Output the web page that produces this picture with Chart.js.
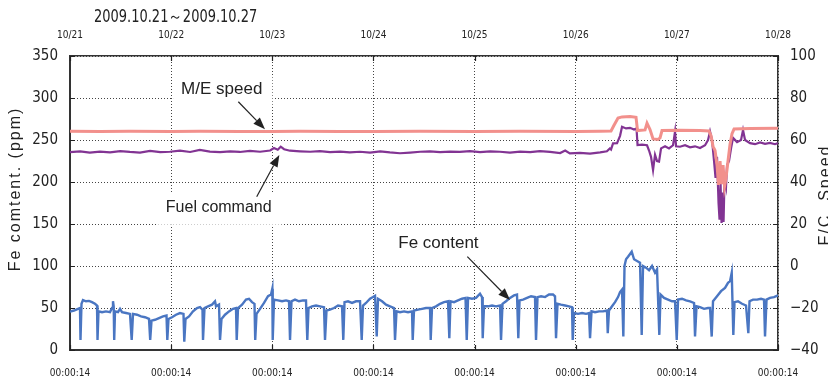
<!DOCTYPE html>
<html><head><meta charset="utf-8">
<script src="https://cdn.jsdelivr.net/npm/chart.js@4.4.0/dist/chart.umd.min.js"></script>
<style>html,body{margin:0;padding:0;background:#fff;}canvas{display:block;}</style>
</head><body>
<canvas id="c" width="828" height="378"></canvas>
<script>
// ---------- data ----------
const titleText = '2009.10.21\uFF5E2009.10.27';
const topLabels = ['10/21','10/22','10/23','10/24','10/25','10/26','10/27','10/28'];
const bottomLabels = ['00:00:14','00:00:14','00:00:14','00:00:14','00:00:14','00:00:14','00:00:14','00:00:14'];
const leftAxisTitle = 'Fe comtent. (ppm)';
const rightAxisTitle = 'F/C, Speed';
const seriesNames = ['M/E speed','Fuel command','Fe content'];

// [hours since 10/21 00:00:14, value]  (M/E speed & Fuel command on right axis, Fe content in ppm on left axis)
const meSpeed = [[0,64.2],[7.12,64.1],[14.24,64.2],[23.97,64.0],[30.85,64.2],[40.34,64.1],[47.93,64.0],[54.58,64.2],[64.07,64.1],[72.14,64.0],[83.06,64.2],[95.87,64.1],[106.79,64.2],[120.08,64.1],[125.77,64.2],[128.38,64.3],[129.09,67],[130.04,70.5],[130.99,71],[132.89,71.2],[134.31,70.8],[134.67,64.5],[136.45,64.8],[136.92,68],[137.63,65],[138.35,60.5],[139.53,60.3],[140.01,61],[140.48,64.5],[144.75,64.6],[149.50,64.5],[151.63,64.3],[152.11,62],[152.58,57],[153.06,55],[153.53,48],[153.89,38.6],[154.25,50],[154.60,39],[154.96,48],[155.32,38],[155.67,42],[156.14,50],[156.62,58],[157.09,63],[157.57,65.2],[161.36,65.5],[168,65.6]];

const fuelCommand = [[0,54.2],[2.4,54.6],[4.7,54.0],[7.1,54.5],[9.5,54.1],[11.9,54.7],[14.2,54.3],[16.6,54.0],[19.0,54.8],[21.4,54.2],[23.7,54.4],[26.1,54.9],[28.5,54.3],[30.8,55.3],[33.2,54.5],[35.6,54.2],[38.0,54.6],[40.3,54.3],[42.7,54.8],[45.1,54.4],[47.5,55.0],[48.4,56.2],[49.3,55.4],[50.0,56.8],[50.8,55.6],[52.2,54.9],[54.6,54.6],[57.0,54.4],[59.3,54.7],[61.7,54.2],[64.1,54.5],[66.4,54.1],[68.8,54.4],[71.2,54.0],[73.6,54.6],[75.9,54.1],[78.3,53.7],[80.7,54.0],[83.1,54.4],[85.4,54.6],[87.8,54.2],[90.2,54.5],[92.5,54.3],[94.9,54.7],[97.3,54.2],[99.7,54.6],[102.0,54.4],[104.4,54.0],[106.8,54.5],[109.2,54.2],[111.5,54.7],[113.9,54.3],[116.3,53.8],[117.5,55.0],[118.6,53.6],[121.0,53.9],[123.4,53.5],[125.8,54.1],[127.4,54.6],[128.1,56.0],
[128.38,55.5],[128.86,58.4],[129.81,58.5],[130.52,62],[130.99,66.3],[131.94,65.5],[132.89,65.8],[133.84,65],[134.43,65.5],[134.67,57.6],[135.74,57.8],[136.92,57.5],[137.40,55],[137.87,52],[138.35,45.7],[138.82,53],[139.30,50],[139.77,49.7],[140.25,56],[141.20,57],[142.14,56],[143.09,57.5],[143.57,64],[143.80,57],[144.75,56.8],[145.94,57.5],[147.13,56.5],[148.31,57],[149.50,56.2],[150.69,57.5],[151.40,60],[151.87,64],[152.35,60],[152.82,50],[153.18,41.9],[153.53,52],[153.89,30],[154.13,22],[154.37,40],[154.60,20.5],[154.84,35],[155.08,21],[155.32,42],[155.67,38],[155.91,48],[156.38,50],[156.86,56],[157.33,61],[158.28,59],[159.23,60],[159.70,64.7],[160.18,60],[161.36,58.5],[162.55,58],[163.74,58.8],[164.92,58.2],[166.10,58.6],[167.29,58],[168,58.5]];

const feContent = [[0,45.6],[0.95,47],[1.90,49],[2.37,50],[2.49,12],[2.73,55],[3.08,59.5],[3.80,58],[4.51,58.5],[5.22,57],[5.93,55],[6.41,53],[6.53,12],[6.76,46],[7.59,45],[8.54,46],[9.49,45],[9.97,50],[10.20,58],[10.37,52],[10.49,12],[10.68,46],[11.39,45],[11.87,49],[12.34,45],[13.29,44],[14.24,43],[14.64,12],[14.95,43],[15.90,42],[16.85,40],[17.80,39],[18.75,37],[19.03,12],[19.34,35],[20.17,36],[21.12,38],[22.07,40],[22.90,41],[23.09,12],[23.37,37],[24.20,39],[25.15,42],[26.10,44],[26.93,43],[27.12,10],[27.41,37],[28.24,40],[29.19,46],[30.14,50],[30.85,51],[31.44,48],[31.56,12],[31.92,50],[32.75,52],[33.70,54],[34.41,58],[34.65,52],[35.36,54],[35.60,12],[35.95,37],[36.78,42],[37.73,46],[38.68,49],[39.39,50],[39.56,12],[39.87,50],[40.82,54],[41.76,60],[42.48,61],[43.19,57],[43.78,55],[43.95,12],[44.26,43],[45.09,49],[46.04,56],[46.99,64],[47.70,66],[48.01,73],[48.10,12],[48.41,60],[49.36,59],[50.31,58],[51.26,59],[51.97,58],[52.21,12],[52.56,58],[53.39,60],[54.34,58],[55.29,59],[56.00,59],[56.31,12],[56.60,50],[57.43,52],[58.38,53],[59.33,52],[60.27,51],[60.51,12],[60.87,47],[61.70,48],[62.65,50],[63.60,53],[64.55,52],[64.85,12],[65.14,57],[65.97,58],[66.92,56],[67.87,58],[68.82,58],[69.22,12],[69.53,53],[70.24,56],[71.19,61],[71.90,63],[72.38,64.5],[72.78,16],[73.09,61],[74.04,58],[74.99,54],[75.94,52],[76.89,50],[77.12,12],[77.48,46],[78.31,45],[79.26,46],[80.21,45],[81.16,46],[81.32,12],[81.63,47],[82.58,48],[83.53,49],[84.48,50],[85.43,50],[85.59,12],[85.90,50],[86.85,52],[87.80,55],[88.75,57],[89.70,58],[90.01,14],[90.29,58],[91.12,57],[92.07,59],[93.02,61],[93.85,62],[94.14,12],[94.45,62],[95.39,61],[96.34,62],[97.29,67],[97.77,63],[97.93,14],[98.24,52],[99.19,52],[100.14,53],[101.09,52],[102.04,53],[102.28,12],[102.63,55],[103.46,58],[104.41,62],[105.36,65],[106.07,66],[106.38,14],[106.67,59],[107.50,60],[108.45,62],[109.40,64],[110.34,63],[110.58,12],[110.94,63],[111.77,64],[112.72,63],[113.67,66],[114.62,66],[115.09,64],[115.33,14],[115.68,55],[116.51,54],[117.46,53],[118.41,52],[119.12,51],[119.29,12],[119.60,44],[120.55,43],[121.50,44],[122.45,43],[123.16,44],[123.40,14],[123.75,46],[124.58,45],[125.53,46],[126.48,46],[127.43,47],[127.60,20],[127.90,47],[128.62,52],[129.33,57],[130.04,63],[130.52,69],[130.99,72],[131.30,16],[131.58,100],[131.94,108],[132.41,111],[133.29,117],[133.84,108],[134.55,106],[135.26,104],[135.66,18],[135.97,100],[136.68,98],[137.40,95],[138.11,100],[138.82,92],[139.30,96],[139.84,18],[140.13,66],[140.96,62],[141.91,60],[142.85,58],[143.57,58],[143.97,12],[144.28,60],[145.23,61],[146.18,59],[147.13,58],[148.08,56],[148.31,16],[148.67,52],[149.50,51],[150.45,49],[151.40,50],[151.87,50],[152.27,16],[152.58,58],[153.53,64],[154.48,70],[155.43,74],[156.14,80],[156.62,82],[157.02,92],[157.40,18],[157.68,57],[158.51,58],[159.46,55],[160.41,53],[160.96,20],[161.24,58],[162.07,60],[163.03,60],[163.97,61],[164.68,60],[164.92,16],[165.28,60],[166.10,62],[167.05,63],[168,65]];

// annotation labels & arrows, in data coordinates (hours, axis value)
const annotations = [
  {text:'M/E speed', axis:'y2', size:17, at:[36.00,84.76], tail:[39.94,78.2], tip:[46.27,65.1]},
  {text:'Fuel command', axis:'y2', size:16, at:[35.29,28.57], tail:[44.30,33.0], tip:[49.67,52.9]},
  {text:'Fe content', axis:'y', size:17, at:[87.42,129.2], tail:[94.28,111.1], tip:[104.41,59.5]}
];

// ---------- drawing ----------
const NARROW = '"Liberation Sans Narrow","Arial Narrow","DejaVu Sans Condensed","Liberation Sans",sans-serif';
const SANS = '"Liberation Sans",Arial,Helvetica,sans-serif';
const INK = '#222';

function annBox(chart, a, ctx){
  const xs = chart.scales.x, ys = chart.scales[a.axis];
  const cx = xs.getPixelForValue(a.at[0]), cy = ys.getPixelForValue(a.at[1]);
  ctx.font = a.size + 'px ' + SANS;
  const w = ctx.measureText(a.text).width, cap = a.size * 0.716;
  return {cx, cy, w, cap};
}
function arrow(ctx, x1, y1, x2, y2){
  const ang = Math.atan2(y2 - y1, x2 - x1), L = 12, W = 4.5;
  const bx = x2 - L * Math.cos(ang), by = y2 - L * Math.sin(ang);
  ctx.beginPath(); ctx.moveTo(x1, y1); ctx.lineTo(bx, by); ctx.stroke();
  ctx.beginPath(); ctx.moveTo(x2, y2);
  ctx.lineTo(bx + W * Math.sin(ang), by - W * Math.cos(ang));
  ctx.lineTo(bx - W * Math.sin(ang), by + W * Math.cos(ang));
  ctx.closePath(); ctx.fill();
}

const decor = {
  id: 'decor',
  beforeDatasetsDraw(chart){
    const ctx = chart.ctx;
    ctx.save();
    ctx.fillStyle = '#fff';
    annotations.forEach(a => {
      const b = annBox(chart, a, ctx);
      ctx.fillRect(b.cx - b.w / 2 - 8, b.cy - b.cap / 2 - 7, b.w + 18, b.cap + 20);
    });
    ctx.restore();
  },
  afterDraw(chart){
    const ctx = chart.ctx, ca = chart.chartArea;
    const xs = chart.scales.x, ys = chart.scales.y, y2 = chart.scales.y2;
    ctx.save();
    // inward tick marks
    ctx.strokeStyle = INK; ctx.lineWidth = 1.2;
    ctx.beginPath();
    xs.ticks.forEach(t => {
      const p = Math.round(xs.getPixelForValue(t.value)) + 0.5;
      ctx.moveTo(p, ca.bottom); ctx.lineTo(p, ca.bottom - 5);
      ctx.moveTo(p, ca.top); ctx.lineTo(p, ca.top + 5);
    });
    ys.ticks.forEach(t => {
      const p = Math.round(ys.getPixelForValue(t.value)) + 0.5;
      ctx.moveTo(ca.left, p); ctx.lineTo(ca.left + 5, p);
    });
    y2.ticks.forEach(t => {
      const p = Math.round(y2.getPixelForValue(t.value)) + 0.5;
      ctx.moveTo(ca.right, p); ctx.lineTo(ca.right - 5, p);
    });
    ctx.stroke();

    // annotations
    ctx.fillStyle = INK; ctx.strokeStyle = INK; ctx.lineWidth = 1.2;
    annotations.forEach(a => {
      const b = annBox(chart, a, ctx);
      ctx.textAlign = 'center'; ctx.textBaseline = 'alphabetic';
      ctx.fillText(a.text, b.cx, b.cy + b.cap / 2);
      const ax = chart.scales[a.axis];
      arrow(ctx, xs.getPixelForValue(a.tail[0]), ax.getPixelForValue(a.tail[1]),
                 xs.getPixelForValue(a.tip[0]), ax.getPixelForValue(a.tip[1]));
    });

    // title (condensed horizontally to match the narrow face of the original)
    ctx.font = '17px ' + NARROW;
    ctx.textAlign = 'left'; ctx.textBaseline = 'alphabetic';
    ctx.save(); ctx.translate(94, 22); ctx.scale(0.85, 1);
    ctx.fillText(titleText, 0, 0); ctx.restore();

    // axis titles
    ctx.font = '16px ' + SANS;
    ctx.textAlign = 'center';
    try { ctx.letterSpacing = '2px'; } catch(e) {}
    ctx.save(); ctx.translate(20, 189); ctx.rotate(-Math.PI / 2);
    ctx.fillText(leftAxisTitle, 0, 0); ctx.restore();
    ctx.save(); ctx.translate(830, 195); ctx.rotate(-Math.PI / 2);
    ctx.fillText(rightAxisTitle, 0, 0); ctx.restore();
    ctx.restore();
  }
};

const gridDotted = {color: '#444', lineWidth: 1, drawTicks: false};

new Chart(document.getElementById('c'), {
  type: 'line',
  data: {
    datasets: [
      {label: seriesNames[0], data: meSpeed, yAxisID: 'y2', borderColor: '#F2908C', borderWidth: 3},
      {label: seriesNames[1], data: fuelCommand, yAxisID: 'y2', borderColor: '#823493', borderWidth: 2.2},
      {label: seriesNames[2], data: feContent, yAxisID: 'y', borderColor: '#4A76C2', borderWidth: 2.4}
    ]
  },
  options: {
    responsive: false, animation: false, devicePixelRatio: 1,
    layout: {padding: 0},
    elements: {point: {radius: 0}, line: {tension: 0}},
    plugins: {legend: {display: false}, tooltip: {enabled: false}},
    scales: {
      x: {type: 'linear', position: 'bottom', min: 0, max: 168,
          afterFit: s => { s.height = 28; },
          ticks: {stepSize: 24, autoSkip: false, maxRotation: 0, padding: 17, color: INK,
                  font: {family: NARROW, size: 10},
                  callback: v => bottomLabels[Math.round(v / 24)]},
          grid: gridDotted,
          border: {display: true, width: 2, color: '#333', dash: [1, 2]}},
      x2: {type: 'linear', position: 'top', min: 0, max: 168,
          afterFit: s => { s.height = 56; },
          ticks: {stepSize: 24, autoSkip: false, maxRotation: 0, padding: 15, color: INK,
                  font: {family: NARROW, size: 10},
                  callback: v => topLabels[Math.round(v / 24)]},
          grid: {display: false, drawTicks: false},
          border: {display: true, width: 1.5, color: '#333'}},
      y: {type: 'linear', position: 'left', min: 0, max: 350,
          afterFit: s => { s.width = 70; },
          ticks: {stepSize: 50, padding: 12, color: INK, font: {family: NARROW, size: 15}},
          grid: gridDotted,
          border: {display: true, width: 2, color: '#333', dash: [1, 2]}},
      y2: {type: 'linear', position: 'right', min: -40, max: 100,
          afterFit: s => { s.width = 50; },
          ticks: {stepSize: 20, padding: 12, color: INK, font: {family: NARROW, size: 15},
                  callback: v => String(v).replace('-', '\u2212')},
          grid: {display: false, drawTicks: false},
          border: {display: true, width: 1.5, color: '#333'}}
    }
  },
  plugins: [decor]
});
</script>
</body></html>
